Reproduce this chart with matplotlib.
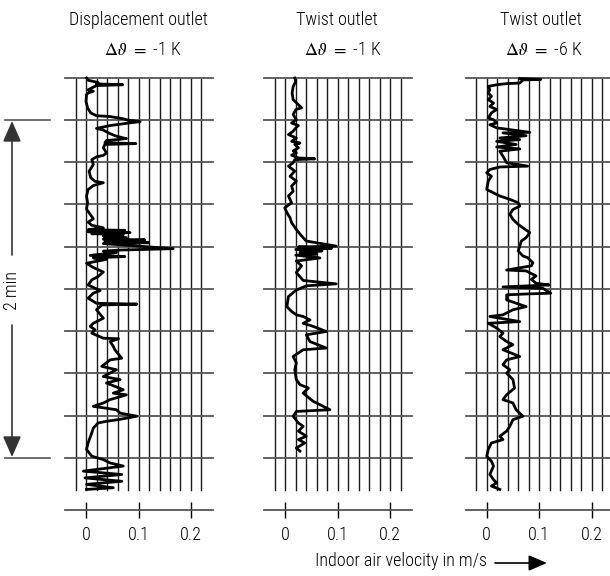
import matplotlib
matplotlib.use('Agg')
import matplotlib.pyplot as plt
from matplotlib import font_manager as fm
from matplotlib.patches import FancyArrowPatch

names = {f.name for f in fm.fontManager.ttflist}
FONT = next((n for n in ['Liberation Sans Narrow', 'Roboto Condensed', 'Open Sans Condensed',
                         'Roboto', 'Liberation Sans'] if n in names), 'DejaVu Sans')
plt.rcParams['font.family'] = [FONT, 'DejaVu Sans']
plt.rcParams['font.weight'] = 'light'
plt.rcParams['mathtext.fontset'] = 'stix'

# ---------------- data ----------------
titles = ["Displacement outlet", "Twist outlet", "Twist outlet"]
delta_labels = ["-1 K", "-1 K", "-6 K"]
tick_values = [0, 0.1, 0.2]
tick_labels = ["0", "0.1", "0.2"]
time_marks = [-15, 0, 15, 30, 45, 60, 75, 90, 105, 120]   # s (2 min = 0..120)
grid_velocities = [-0.02, 0, 0.02, 0.04, 0.06, 0.08, 0.10, 0.12, 0.14, 0.16, 0.18, 0.20, 0.22]

# panel 1: displacement outlet, dT = -1 K  (velocity m/s, time s)
p1_velocity = [0.001, 0.004, 0.023, 0.020, 0.070, 0.020, 0.004, 0.014, 0.004, 0.001, 0.000, 0.003,
               0.009, 0.020, 0.046, 0.071, 0.081, 0.103, 0.081, 0.046, 0.020, 0.033, 0.043, 0.055,
               0.071, 0.077, 0.058, 0.039, 0.036, 0.095, 0.036, 0.033, 0.039, 0.033, 0.020, 0.011,
               0.014, 0.006, 0.009, 0.017, 0.033, 0.014, 0.004, 0.001, 0.003, 0.001, 0.008, 0.014,
               0.004, 0.011, 0.033, 0.004, 0.074, 0.004, 0.084, 0.011, 0.071, 0.033, 0.077, 0.033,
               0.112, 0.036, 0.119, 0.033, 0.166, 0.065, 0.033, 0.058, 0.008, 0.074, 0.014, 0.039,
               0.001, 0.014, 0.033, 0.023, 0.011, 0.004, 0.027, 0.014, 0.004, 0.020, 0.097, 0.030,
               0.020, 0.033, 0.014, 0.008, 0.017, 0.011, 0.033, 0.062, 0.046, 0.052, 0.055, 0.068,
               0.046, 0.030, 0.058, 0.033, 0.065, 0.039, 0.071, 0.052, 0.077, 0.046, 0.033, 0.014,
               0.058, 0.065, 0.097, 0.062, 0.039, 0.023, 0.014, 0.011, 0.004, 0.001, 0.011, 0.033,
               0.046, 0.071, -0.005, 0.068, -0.002, 0.068, 0.001, 0.052, 0.001]
p1_time = [-14.9, -14.1, -13.3, -12.8, -12.5, -12.2, -10.7, -10.2, -9.6, -9.0, -6.6, -4.3,
           -2.5, -1.5, -1.2, -0.4, 0.1, 0.6, 1.1, 2.0, 3.0, 3.6, 4.6, 5.6,
           6.4, 6.6, 7.0, 7.3, 8.1, 8.4, 8.7, 9.9, 11.7, 12.6, 13.1, 14.1,
           15.8, 18.2, 20.5, 21.8, 22.3, 23.3, 24.7, 27.0, 29.4, 31.7, 33.5, 35.1,
           36.3, 37.4, 38.3, 39.0, 39.2, 39.7, 40.0, 40.4, 40.7, 41.2, 41.8, 42.3,
           42.6, 43.2, 43.6, 43.9, 45.7, 46.2, 46.6, 47.1, 48.1, 48.5, 49.0, 49.5,
           50.9, 52.4, 54.0, 55.6, 56.8, 58.6, 60.6, 61.5, 63.3, 65.1, 65.4, 65.7,
           67.4, 70.4, 72.2, 73.3, 74.5, 75.7, 77.5, 77.7, 78.7, 80.4, 81.6, 84.6,
           85.2, 87.5, 88.7, 91.1, 92.2, 93.4, 95.8, 97.0, 97.6, 99.3, 100.5, 101.7,
           102.9, 104.1, 105.2, 106.4, 107.0, 107.6, 109.4, 111.1, 114.7, 117.0, 119.4, 120.6,
           121.8, 122.9, 124.7, 125.9, 127.1, 128.3, 129.4, 130.6, 131.2]

# panel 2: twist outlet, dT = -1 K
p2_velocity = [0.018, 0.020, 0.015, 0.013, 0.015, 0.025, 0.031, 0.020, 0.015, 0.021, 0.012, 0.025,
               0.020, 0.015, 0.006, 0.021, 0.012, 0.028, 0.018, 0.025, 0.015, 0.021, 0.012, 0.025,
               0.056, 0.018, 0.015, 0.006, 0.018, 0.009, 0.021, 0.012, 0.015, 0.006, 0.012, -0.001,
               0.003, 0.009, 0.012, 0.021, 0.031, 0.040, 0.097, 0.025, 0.088, 0.020, 0.070, 0.028,
               0.060, 0.020, 0.066, 0.021, 0.031, 0.021, 0.034, 0.097, 0.040, 0.021, 0.006, 0.003,
               0.012, 0.021, 0.034, 0.047, 0.034, 0.053, 0.078, 0.040, 0.047, 0.078, 0.034, 0.015,
               0.021, 0.018, 0.021, 0.028, 0.044, 0.034, 0.053, 0.066, 0.085, 0.021, 0.015, 0.025,
               0.034, 0.025, 0.040, 0.025, 0.037, 0.021, 0.028]
p2_time = [-14.9, -13.7, -11.9, -9.6, -7.2, -5.4, -4.3, -3.7, -1.9, -0.1, 1.1, 2.0,
           2.8, 4.0, 5.2, 6.4, 7.6, 8.2, 8.7, 9.9, 11.0, 11.7, 12.5, 13.5,
           13.8, 14.1, 15.2, 16.4, 18.2, 20.0, 21.7, 23.5, 25.3, 27.0, 29.4, 31.2,
           32.9, 34.7, 36.5, 38.9, 41.2, 43.0, 44.8, 45.1, 45.6, 46.0, 46.5, 47.0,
           47.6, 48.0, 49.0, 50.1, 51.8, 54.2, 57.0, 58.2, 58.9, 60.4, 62.7, 66.3,
           68.0, 69.2, 69.8, 71.0, 72.2, 73.3, 75.1, 76.3, 78.7, 81.0, 81.6, 84.0,
           86.3, 88.7, 92.2, 94.0, 95.2, 97.0, 99.9, 101.1, 102.9, 103.5, 105.2, 107.6,
           108.8, 110.5, 112.3, 113.5, 114.7, 116.5, 117.6]

# panel 3: twist outlet, dT = -6 K
p3_velocity = [0.063, 0.103, 0.069, 0.063, 0.038, 0.019, 0.003, 0.006, 0.003, 0.009, 0.003, 0.013,
               0.006, 0.019, 0.009, 0.003, 0.013, 0.019, 0.006, 0.019, 0.082, 0.031, 0.075, 0.025,
               0.063, 0.019, 0.056, 0.019, 0.063, 0.025, 0.031, 0.038, 0.078, 0.025, 0.006, 0.000,
               0.009, 0.003, 0.000, 0.013, 0.025, 0.044, 0.060, 0.063, 0.050, 0.044, 0.050, 0.060,
               0.069, 0.082, 0.075, 0.066, 0.063, 0.060, 0.069, 0.078, 0.088, 0.085, 0.038, 0.075,
               0.094, 0.085, 0.094, 0.119, 0.031, 0.107, 0.122, 0.075, 0.038, 0.038, 0.075, 0.050,
               0.031, 0.006, 0.063, 0.003, 0.019, 0.031, 0.025, 0.038, 0.050, 0.031, 0.063, 0.038,
               0.031, 0.044, 0.038, 0.050, 0.053, 0.038, 0.031, 0.050, 0.056, 0.069, 0.050, 0.044,
               0.038, 0.025, 0.031, 0.009, 0.003, 0.000, 0.009, 0.013, 0.006, 0.013, 0.019, 0.009,
               0.025]
p3_time = [-14.7, -14.4, -14.2, -13.1, -12.9, -12.5, -11.9, -10.7, -9.6, -8.4, -7.2, -6.0,
           -4.8, -3.7, -2.5, -0.7, -0.1, 1.1, 1.7, 2.8, 4.4, 4.6, 5.6, 6.4,
           7.0, 7.6, 8.7, 9.6, 10.3, 11.1, 12.9, 15.2, 16.4, 16.7, 17.6, 18.8,
           20.0, 21.7, 24.7, 25.9, 27.0, 28.2, 29.4, 30.6, 31.8, 33.5, 35.3, 37.1,
           38.3, 40.0, 41.8, 43.0, 44.8, 46.5, 48.3, 48.9, 50.7, 51.8, 53.3, 53.6,
           55.4, 56.6, 58.0, 58.6, 59.3, 59.8, 61.5, 61.8, 62.1, 63.9, 66.3, 67.4,
           69.2, 69.8, 71.6, 72.2, 73.9, 75.7, 76.9, 78.7, 79.8, 81.6, 84.0, 85.2,
           86.9, 88.7, 89.9, 92.2, 95.2, 97.6, 99.3, 100.5, 102.9, 105.2, 106.4, 108.8,
           110.5, 112.3, 113.5, 114.7, 117.0, 119.4, 121.2, 122.9, 125.9, 127.7, 128.9, 130.0,
           131.2]

series = [(p1_velocity, p1_time), (p2_velocity, p2_time), (p3_velocity, p3_time)]

# ---------------- layout (pixels) ----------------
W, H = 610, 576
fig = plt.figure(figsize=(W / 100, H / 100), dpi=100)
PX_PER_V = 525.0            # px per 1 m/s
zeros_px = [86.0, 285.3, 486.7]
VMIN, VMAX = -0.04, 0.242
TOP_PX, BOT_PX = 77.7, 490.0
TMIN, TMAX = -15.0, 131.4
AX_PX = 510.4
FS = 13

def fx(px):
    return px / W

def fy(py):
    return 1 - py / H

for i, (vel, tim) in enumerate(series):
    left = zeros_px[i] + VMIN * PX_PER_V
    width = (VMAX - VMIN) * PX_PER_V
    ax = fig.add_axes([fx(left), fy(BOT_PX), width / W, (BOT_PX - TOP_PX) / H])
    ax.set_xlim(VMIN, VMAX)
    ax.set_ylim(TMAX, TMIN)
    ax.axis('off')
    for g in grid_velocities:
        ax.axvline(g, color='#1a1a1a', lw=1.0, clip_on=False, zorder=1)
    for t in time_marks:
        ax.axhline(t, color='#555555', lw=1.3, clip_on=False, zorder=1)
    ax.plot(vel, tim, color='black', lw=2.0, zorder=3, clip_on=False)

    # velocity axis
    axb = fig.add_axes([fx(left), fy(AX_PX), width / W, 0.0001])
    axb.set_xlim(VMIN, VMAX)
    axb.set_yticks([])
    for s in ['top', 'left', 'right']:
        axb.spines[s].set_visible(False)
    axb.spines['bottom'].set_color('#555555')
    axb.spines['bottom'].set_linewidth(1.3)
    axb.set_xticks(tick_values)
    axb.set_xticklabels(tick_labels)
    axb.tick_params(axis='x', direction='inout', length=12, width=1.0, color='black',
                    labelsize=FS, pad=5)
    axb.patch.set_visible(False)

# overlay in pixel coordinates
ov = fig.add_axes([0, 0, 1, 1], zorder=10)
ov.set_xlim(0, W)
ov.set_ylim(H, 0)
ov.axis('off')
ov.patch.set_visible(False)

title_x = [138, 337, 541]
delta_x = [143, 343, 544]
for i in range(3):
    ov.text(title_x[i], 20, titles[i], ha='center', va='center', fontsize=FS)
    ov.text(delta_x[i], 50, r"$\Delta\vartheta\ =$ " + delta_labels[i], ha='center',
            va='center', fontsize=FS)

# "2 min" dimension
ov.plot([5, 50], [120, 120], color='#555555', lw=1.2)
ov.plot([5, 50], [458, 458], color='#555555', lw=1.2)
for y0, y1 in [(255, 121), (325, 457)]:
    ov.add_patch(FancyArrowPatch((12, y0), (12, y1), arrowstyle='-|>,head_length=8,head_width=3.5',
                                 color='#333333', lw=1.2, mutation_scale=1.6,
                                 shrinkA=0, shrinkB=0))
ov.text(12, 290, "2 min", rotation=90, ha='center', va='center', fontsize=FS)

# x label and arrow
ov.text(401, 561, "Indoor air velocity in m/s", ha='center', va='center', fontsize=FS)
ov.add_patch(FancyArrowPatch((495, 563), (547, 563), arrowstyle='-|>,head_length=7,head_width=3',
                             color='black', lw=1.2, mutation_scale=1.6, shrinkA=0, shrinkB=0))

fig.savefig('out.png', dpi=100)
